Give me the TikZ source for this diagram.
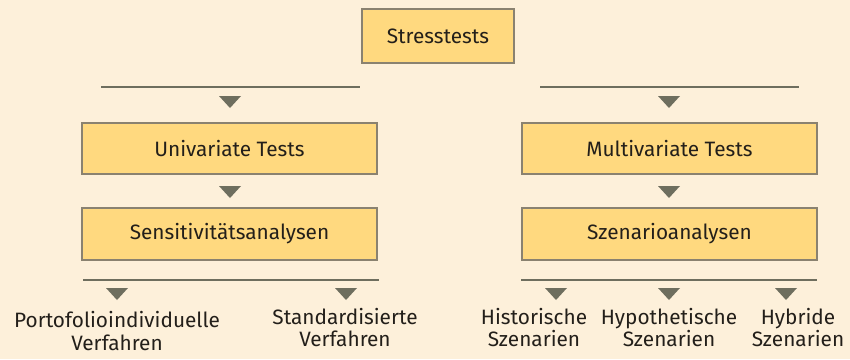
\documentclass[tikz,border=0pt]{standalone}
\usepackage{fontspec}
\setmainfont{Fira Sans}
\definecolor{bg}{HTML}{FDF0DA}
\definecolor{boxfill}{HTML}{FFD97F}
\definecolor{boxline}{HTML}{8A8270}
\definecolor{tri}{HTML}{6E6E5E}
\definecolor{txt}{HTML}{231F1A}
\tikzset{
  box/.style={draw=boxline, line width=1.2pt, fill=boxfill, text=txt, font=\fontsize{20.8}{24}\selectfont, inner sep=0pt},
  bar/.style={draw=tri, line width=2.2pt},
  leaf/.style={text=txt, font=\fontsize{20.8}{22.5}\selectfont, align=center, inner sep=0pt},
  tria/.style={fill=tri, draw=none}
}
\newcommand{\tridown}[2]{\fill[tria] (#1-11,#2) -- (#1+11,#2) -- (#1,#2+12) -- cycle;}
\begin{document}
\begin{tikzpicture}[x=1pt,y=-1pt]
\fill[bg] (0,0) rectangle (850,359);
\useasboundingbox (0,0) rectangle (850,359);
% boxes
\node[box, minimum width=152pt, minimum height=54pt] (st) at (438,36) {Stresstests};
\node[box, minimum width=295pt, minimum height=51pt] (uni) at (229.5,148.5) {Univariate Tests};
\node[box, minimum width=295pt, minimum height=52pt] (sens) at (229.5,234) {Sensitivitätsanalysen};
\node[box, minimum width=295pt, minimum height=51pt] (multi) at (669.5,148.5) {Multivariate Tests};
\node[box, minimum width=295pt, minimum height=52pt] (szen) at (669.5,234) {Szenarioanalysen};
% bars
\coordinate (l1a) at (101,87); \coordinate (l1b) at (360,87);
\coordinate (r1a) at (540,87); \coordinate (r1b) at (799,87);
\coordinate (l2a) at (83,280); \coordinate (l2b) at (379,280);
\coordinate (r2a) at (521,280); \coordinate (r2b) at (817,280);
\draw[bar] (l1a) -- (l1b);
\draw[bar] (r1a) -- (r1b);
\draw[bar] (l2a) -- (l2b);
\draw[bar] (r2a) -- (r2b);
% triangles
\tridown{230}{96}
\tridown{669}{96}
\tridown{230}{186}
\tridown{669}{186}
\tridown{117}{288}
\tridown{346}{288}
\tridown{556}{288}
\tridown{669}{288}
\tridown{786}{288}
% leaves
\node[leaf] (pf) at (117,331) {Portofolioindividuelle\\Verfahren};
\node[leaf] (sv) at (345,327.5) {Standardisierte\\Verfahren};
\node[leaf] (hs) at (534,327.5) {Historische\\Szenarien};
\node[leaf] (hy) at (669,327.5) {Hypothetische\\Szenarien};
\node[leaf] (hb) at (798,327.5) {Hybride\\Szenarien};
\end{tikzpicture}
\end{document}
